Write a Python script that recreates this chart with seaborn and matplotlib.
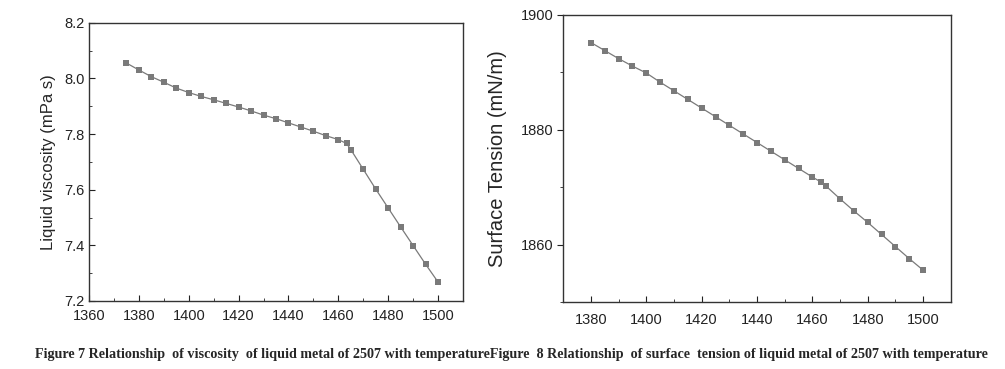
import numpy as np
import pandas as pd
import matplotlib
matplotlib.use('Agg')
import matplotlib.pyplot as plt
from matplotlib.ticker import MultipleLocator
import seaborn as sns

sns.set_style("ticks")
plt.rcParams['font.family'] = ['Liberation Sans', 'DejaVu Sans']

# Figure 7: viscosity vs temperature
temp_visc = [1375, 1380, 1385, 1390, 1395, 1400, 1405, 1410, 1415, 1420, 1425, 1430,
             1435, 1440, 1445, 1450, 1455, 1460, 1463.3, 1465, 1470, 1475, 1480,
             1485, 1490, 1495, 1500]
viscosity = [8.055, 8.030, 8.006, 7.986, 7.965, 7.949, 7.935, 7.923, 7.910, 7.897,
             7.883, 7.868, 7.855, 7.840, 7.825, 7.810, 7.794, 7.780, 7.766, 7.744,
             7.673, 7.602, 7.534, 7.466, 7.399, 7.332, 7.268]

# Figure 8: surface tension vs temperature
temp_st = [1380, 1385, 1390, 1395, 1400, 1405, 1410, 1415, 1420, 1425, 1430, 1435,
           1440, 1445, 1450, 1455, 1460, 1463.2, 1465, 1470, 1475, 1480, 1485,
           1490, 1495, 1500]
tension = [1895.2, 1893.8, 1892.4, 1891.1, 1889.9, 1888.3, 1886.8, 1885.3, 1883.8,
           1882.3, 1880.8, 1879.3, 1877.8, 1876.3, 1874.8, 1873.3, 1871.8, 1870.9,
           1870.2, 1868.0, 1865.9, 1863.9, 1861.8, 1859.7, 1857.6, 1855.6]

caption = ("Figure 7 Relationship  of viscosity  of liquid metal of 2507 with temperature"
           "Figure  8 Relationship  of surface  tension of liquid metal of 2507 with temperature")

df1 = pd.DataFrame({'T': temp_visc, 'V': viscosity})
df2 = pd.DataFrame({'T': temp_st, 'S': tension})

fig = plt.figure(figsize=(10.05, 3.69), dpi=100)
ax1 = fig.add_axes([0.0886, 0.1843, 0.3721, 0.7542])
ax2 = fig.add_axes([0.5605, 0.1808, 0.3855, 0.7786])

grey = '#7a7a7a'
sns.lineplot(data=df1, x='T', y='V', ax=ax1, color=grey, lw=0.9, marker='s',
             markersize=5, markeredgewidth=0, markerfacecolor=grey)
sns.lineplot(data=df2, x='T', y='S', ax=ax2, color=grey, lw=0.9, marker='s',
             markersize=5, markeredgewidth=0, markerfacecolor=grey)

ax1.set_xlim(1360, 1510)
ax1.set_ylim(7.2, 8.2)
ax1.set_xticks(np.arange(1360, 1501, 20))
ax1.xaxis.set_minor_locator(MultipleLocator(10))
ax1.yaxis.set_major_locator(MultipleLocator(0.2))
ax1.yaxis.set_minor_locator(MultipleLocator(0.1))
ax1.yaxis.set_major_formatter(matplotlib.ticker.FormatStrFormatter('%.1f'))
ax1.tick_params(which='both', direction='in', labelsize=10.5, colors='#222222')
ax1.tick_params(axis='x', which='both', pad=6)
ax1.tick_params(axis='y', which='both', pad=3)
ax1.tick_params(which='major', length=4)
ax1.tick_params(which='minor', length=2.5)
ax1.set_xlabel('')
ax1.set_ylabel('Liquid viscosity (mPa s)', fontsize=12, labelpad=6)

ax2.set_xlim(1370, 1510)
ax2.set_ylim(1850, 1900)
ax2.set_xticks(np.arange(1380, 1501, 20))
ax2.xaxis.set_minor_locator(MultipleLocator(10))
ax2.set_yticks([1860, 1880, 1900])
ax2.yaxis.set_minor_locator(MultipleLocator(10))
ax2.tick_params(which='both', labelsize=10.5, colors='#222222')
ax2.tick_params(axis='x', which='both', direction='in', pad=8)
ax2.tick_params(axis='y', which='both', direction='out', pad=3)
ax2.tick_params(which='major', length=4)
ax2.tick_params(which='minor', length=2.5)
ax2.set_xlabel('')
ax2.set_ylabel('Surface Tension (mN/m)', fontsize=14.5, labelpad=10)

for ax in (ax1, ax2):
    for sp in ax.spines.values():
        sp.set_color('#333333')
        sp.set_linewidth(1.0)

fig.text(0.5085, 0.04, caption, ha='center', va='center', fontsize=10.2,
         fontweight='bold', family=['Liberation Serif', 'DejaVu Serif'])

fig.savefig('out.png', dpi=100, facecolor='white')
